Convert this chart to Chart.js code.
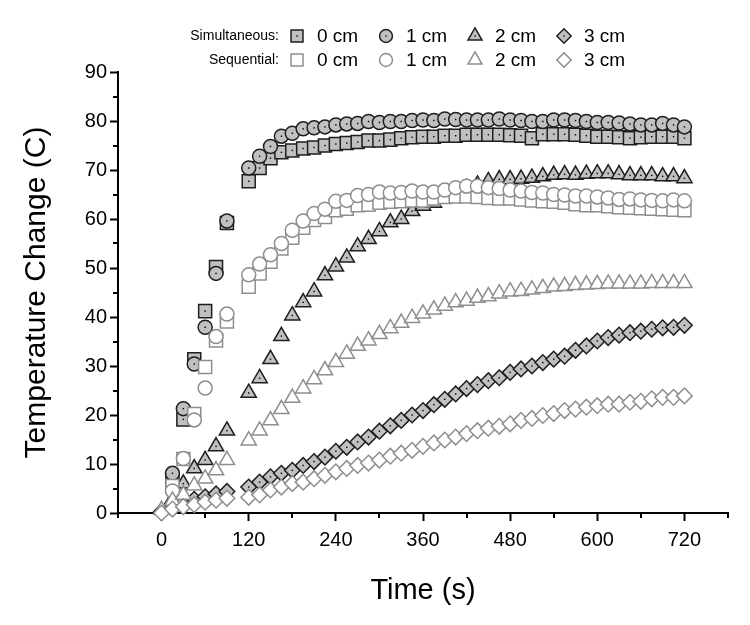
<!DOCTYPE html>
<html>
<head>
<meta charset="utf-8">
<script src="https://cdn.jsdelivr.net/npm/chart.js@4.4.1/dist/chart.umd.min.js"></script>
<style>
  html, body { margin: 0; padding: 0; background: #fff; }
  #wrap { position: relative; width: 750px; height: 625px; }
</style>
</head>
<body>
<div id="wrap"><canvas id="c"></canvas></div>
<script>
/* Temperature change vs time, simultaneous vs sequential heating at 0-3 cm.
   Readings every 15 s (no reading at 105 s). */
const times = [0, 15, 30, 45, 60, 75, 90,
  120, 135, 150, 165, 180, 195, 210, 225, 240, 255, 270, 285,
  300, 315, 330, 345, 360, 375, 390, 405, 420, 435, 450, 465, 480, 495,
  510, 525, 540, 555, 570, 585, 600, 615, 630, 645, 660, 675, 690, 705, 720];

const sim0 = [null, 6.7, 19.1, 31.4, 41.2, 50.2, 59.2,
  67.7, 70.4, 72.4, 73.6, 74.0, 74.4, 74.6, 75.0, 75.3, 75.5, 75.7, 76.0,
  76.0, 76.2, 76.5, 76.7, 76.8, 76.8, 77.0, 77.0, 77.2, 77.2, 77.2, 77.2, 77.1, 77.0,
  76.5, 77.3, 77.3, 77.3, 77.2, 77.0, 76.8, 76.8, 76.7, 76.5, 76.7, 76.8, 76.8, 76.8, 76.5];
const sim1 = [null, 8.1, 21.3, 30.4, 37.9, 48.9, 59.6,
  70.4, 72.8, 74.8, 76.9, 77.5, 78.4, 78.6, 78.8, 79.2, 79.4, 79.5, 79.9,
  79.7, 79.9, 79.9, 80.1, 80.2, 80.1, 80.4, 80.3, 80.2, 80.2, 80.2, 80.4, 80.2, 80.1,
  79.9, 79.9, 80.2, 80.2, 80.1, 79.9, 79.7, 79.7, 79.6, 79.4, 79.2, 79.2, 79.5, 79.2, 78.8];
const sim2 = [null, 2.8, 6.0, 9.1, 10.8, 13.6, 16.8,
  24.5, 27.5, 31.4, 36.1, 40.3, 43.0, 45.2, 48.5, 50.3, 52.1, 54.4, 55.9,
  57.5, 59.3, 60.0, 61.6, 62.7, 63.3, 64.5, 65.5, 66.3, 67.0, 67.7, 68.1, 68.1, 68.2,
  68.4, 68.7, 69.0, 69.1, 69.0, 69.2, 69.3, 69.3, 69.1, 68.9, 68.9, 68.9, 68.7, 68.7, 68.3];
const sim3 = [0.3, 1.2, 2.2, 2.8, 3.3, 3.9, 4.4,
  5.3, 6.3, 7.4, 8.1, 8.7, 9.7, 10.5, 11.4, 12.6, 13.4, 14.5, 15.5,
  16.7, 17.8, 18.9, 20.0, 20.9, 22.1, 23.2, 24.3, 25.4, 26.2, 27.0, 27.6, 28.7, 29.4,
  30.0, 30.7, 31.4, 32.0, 33.2, 34.1, 35.1, 35.8, 36.3, 36.8, 37.1, 37.5, 37.8, 37.9, 38.3];

const seq0 = [null, 5.5, 11.0, 20.2, 29.8, 35.2, 39.1,
  46.2, 48.9, 51.3, 54.0, 56.2, 58.2, 59.8, 60.4, 61.8, 62.1, 62.8, 62.9,
  63.3, 63.5, 63.6, 63.8, 63.8, 64.2, 64.5, 64.6, 64.6, 64.5, 64.3, 64.2, 64.2, 64.0,
  63.8, 63.6, 63.5, 63.3, 63.0, 62.8, 62.8, 62.6, 62.4, 62.3, 62.2, 62.1, 62.0, 61.9, 61.8];
const seq1 = [null, 4.5, 11.1, 19.0, 25.5, 36.0, 40.6,
  48.6, 50.8, 52.7, 55.0, 57.7, 59.6, 61.1, 62.0, 63.6, 63.8, 64.8, 65.0,
  65.5, 65.3, 65.4, 65.7, 65.5, 65.5, 65.9, 66.4, 66.7, 66.7, 66.4, 66.2, 65.9, 65.7,
  65.4, 65.3, 65.0, 64.9, 64.7, 64.7, 64.5, 64.3, 64.0, 64.1, 63.9, 63.8, 63.7, 63.9, 63.7];
const seq2 = [0.6, 2.5, 3.7, 5.6, 7.0, 8.7, 10.8,
  14.8, 16.8, 18.9, 21.2, 23.5, 25.4, 27.3, 29.1, 30.8, 32.5, 34.1, 35.2,
  36.5, 37.7, 38.8, 39.8, 40.7, 41.5, 42.3, 43.0, 43.3, 43.9, 44.2, 44.8, 45.2, 45.3,
  45.6, 45.9, 46.2, 46.3, 46.5, 46.6, 46.7, 46.8, 46.8, 46.8, 46.8, 46.9, 46.9, 46.9, 46.9];
const seq3 = [0, 0.8, 1.3, 1.7, 2.2, 2.6, 3.0,
  3.2, 3.7, 4.7, 5.3, 6.0, 6.3, 7.0, 7.7, 8.4, 9.1, 9.7, 10.2,
  10.8, 11.6, 12.2, 12.8, 13.6, 14.3, 14.9, 15.5, 16.2, 16.8, 17.3, 17.7, 18.2, 18.9,
  19.3, 19.9, 20.3, 20.9, 21.2, 21.6, 21.9, 22.2, 22.2, 22.6, 22.8, 23.3, 23.6, 23.6, 23.9];

const depthLabels = ['0 cm', '1 cm', '2 cm', '3 cm'];
const groupLabels = ['Simultaneous:', 'Sequential:'];

const FONT = '"Liberation Sans", Arial, Helvetica, sans-serif';
Chart.defaults.font.family = FONT;
Chart.defaults.color = '#000';

// marker look per depth (same shape for both groups)
const SHAPES = [
  { pointStyle: 'rect', radius: 9.2 },
  { pointStyle: 'circle', radius: 7 },
  { pointStyle: 'triangle', radius: 8.8 },
  { pointStyle: 'rectRot', radius: 7.8 }
];
const FILLED = { bg: '#c0c0c0', border: '#1e1e1e', dot: true };
const HOLLOW = { bg: '#ffffff', border: '#8e8e8e', dot: false };

function makeSet(label, values, depth, look, drawIdx) {
  const s = SHAPES[depth];
  return {
    label: label,
    data: times.map((t, i) => ({ x: t, y: values[i] })),
    showLine: false,
    pointStyle: s.pointStyle,
    pointRadius: s.radius,
    pointHoverRadius: s.radius,
    pointBorderWidth: 1.5,
    backgroundColor: look.bg,
    borderColor: look.border,
    clip: false,
    order: 10 - drawIdx,   // later series painted on top
    dot: look.dot
  };
}

const datasets = [
  makeSet('Simultaneous 0 cm', sim0, 0, FILLED, 0),
  makeSet('Simultaneous 1 cm', sim1, 1, FILLED, 1),
  makeSet('Simultaneous 2 cm', sim2, 2, FILLED, 2),
  makeSet('Simultaneous 3 cm', sim3, 3, FILLED, 3),
  makeSet('Sequential 0 cm', seq0, 0, HOLLOW, 4),
  makeSet('Sequential 1 cm', seq1, 1, HOLLOW, 5),
  makeSet('Sequential 2 cm', seq2, 2, HOLLOW, 6),
  makeSet('Sequential 3 cm', seq3, 3, HOLLOW, 7)
];

const isMajorX = v => v >= 0 && v % 120 === 0;
const isMajorY = v => v % 10 === 0;

/* small black dot in the middle of the filled markers */
const centerDots = {
  id: 'centerDots',
  afterDatasetDraw(chart, args) {
    const ds = chart.data.datasets[args.index];
    if (!ds.dot) return;
    const ctx = chart.ctx;
    ctx.save();
    ctx.fillStyle = '#000';
    args.meta.data.forEach(pt => {
      if (pt.skip) return;
      ctx.fillRect(pt.x - 0.7, pt.y - 0.7, 1.4, 1.4);
    });
    ctx.restore();
  }
};

/* short minor ticks (the scale draws only the long major ones) */
const minorTicks = {
  id: 'minorTicks',
  afterDraw(chart) {
    const { ctx, scales: { x, y } } = chart;
    ctx.save();
    ctx.strokeStyle = '#000';
    ctx.lineWidth = 2;
    ctx.beginPath();
    x.ticks.forEach(t => {
      if (isMajorX(t.value)) return;
      const px = Math.round(x.getPixelForValue(t.value));
      ctx.moveTo(px, y.bottom);
      ctx.lineTo(px, y.bottom + 5);
    });
    y.ticks.forEach(t => {
      if (isMajorY(t.value)) return;
      const py = Math.round(y.getPixelForValue(t.value));
      ctx.moveTo(x.left, py);
      ctx.lineTo(x.left - 5, py);
    });
    ctx.stroke();
    ctx.restore();
  }
};

/* two-row legend: group label, then one marker + depth per column */
const rowLegend = {
  id: 'rowLegend',
  afterDraw(chart) {
    const ctx = chart.ctx;
    const rowsY = [36, 60];
    const markX = [297, 386, 475, 564];
    ctx.save();
    groupLabels.forEach((g, r) => {
      ctx.font = '14px ' + FONT;
      ctx.fillStyle = '#000';
      ctx.textAlign = 'right';
      ctx.textBaseline = 'middle';
      ctx.fillText(g, 279, rowsY[r]);
      depthLabels.forEach((d, k) => {
        const ds = chart.data.datasets[r * 4 + k];
        ctx.fillStyle = ds.backgroundColor;
        ctx.strokeStyle = ds.borderColor;
        ctx.lineWidth = 1.5;
        Chart.helpers.drawPoint(ctx, {
          pointStyle: ds.pointStyle, radius: ds.pointRadius * 0.92,
          borderWidth: 1.5, rotation: 0
        }, markX[k], rowsY[r]);
        if (ds.dot) { ctx.fillStyle = '#000'; ctx.fillRect(markX[k] - 0.7, rowsY[r] - 0.7, 1.4, 1.4); }
        ctx.font = '19px ' + FONT;
        ctx.fillStyle = '#000';
        ctx.textAlign = 'left';
        ctx.fillText(d, markX[k] + 20, rowsY[r] + 1);
      });
    });
    ctx.restore();
  }
};

new Chart(document.getElementById('c'), {
  type: 'scatter',
  data: { datasets },
  options: {
    responsive: true,
    maintainAspectRatio: false,
    animation: false,
    events: [],
    layout: { padding: { top: 72, right: 22, bottom: 0, left: 0 } },
    plugins: { legend: { display: false }, tooltip: { enabled: false } },
    scales: {
      x: {
        type: 'linear',
        min: -60, max: 780,
        afterFit: s => { s.height = 112; },
        border: { display: true, color: '#000', width: 2 },
        grid: {
          drawOnChartArea: false, drawTicks: true, tickLength: 8, tickWidth: 2,
          tickColor: c => (c.tick && isMajorX(c.tick.value)) ? '#000' : 'rgba(0,0,0,0)'
        },
        ticks: {
          stepSize: 60, autoSkip: false, maxRotation: 0, padding: 7,
          font: { size: 20 }, color: '#000',
          callback: v => isMajorX(v) ? String(v) : ''
        },
        title: { display: true, text: 'Time (s)', font: { size: 29 }, color: '#000', padding: { top: 0, bottom: 17 } }
      },
      y: {
        type: 'linear',
        min: 0, max: 90,
        afterFit: s => { s.width = 118; },
        border: { display: true, color: '#000', width: 2 },
        grid: {
          drawOnChartArea: false, drawTicks: true, tickLength: 8, tickWidth: 2,
          tickColor: c => (c.tick && isMajorY(c.tick.value)) ? '#000' : 'rgba(0,0,0,0)'
        },
        ticks: {
          stepSize: 5, autoSkip: false, padding: 3,
          font: { size: 20 }, color: '#000',
          callback: v => isMajorY(v) ? String(v) : ''
        },
        title: { display: true, text: 'Temperature Change (C)', font: { size: 30 }, color: '#000', padding: { top: 19, bottom: 0 } }
      }
    }
  },
  plugins: [centerDots, minorTicks, rowLegend]
});
</script>
</body>
</html>
